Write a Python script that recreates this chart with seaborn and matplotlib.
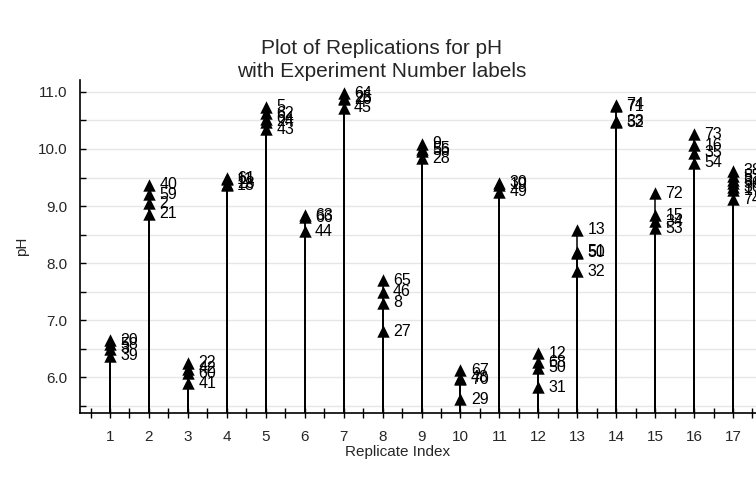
import matplotlib
matplotlib.use("Agg")
import matplotlib.pyplot as plt
import seaborn as sns
import pandas as pd
from matplotlib.ticker import MultipleLocator

# ---- data: pH values per replicate, with experiment-number labels ----
replicates = list(range(1, 18))
rep_labels = [
    ["20", "58", "3", "39"],
    ["40", "59", "2", "21"],
    ["22", "42", "60", "41"],
    ["61", "11", "23", "18"],
    ["5", "62", "64", "24", "43"],
    ["63", "66", "44"],
    ["64", "25", "26", "45"],
    ["65", "46", "8", "27"],
    ["9", "55", "56", "28"],
    ["67", "48", "70", "29"],
    ["30", "19", "49"],
    ["12", "68", "50", "31"],
    ["13", "51", "50", "32"],
    ["74", "71", "33", "52"],
    ["72", "15", "34", "53"],
    ["73", "16", "35", "54"],
    ["38", "57", "37", "56", "36", "17", "74"],
]
rep_values = [
    [6.65, 6.58, 6.50, 6.37],
    [9.37, 9.21, 9.05, 8.86],
    [6.25, 6.15, 6.07, 5.89],
    [9.49, 9.47, 9.39, 9.36],
    [10.74, 10.63, 10.53, 10.48, 10.35],
    [8.84, 8.80, 8.56],
    [10.98, 10.90, 10.87, 10.72],
    [7.70, 7.50, 7.30, 6.80],
    [10.09, 10.00, 9.97, 9.84],
    [6.12, 5.99, 5.96, 5.61],
    [9.41, 9.37, 9.25],
    [6.42, 6.26, 6.16, 5.82],
    [8.58, 8.20, 8.18, 7.86],
    [10.78, 10.75, 10.49, 10.47],
    [9.22, 8.84, 8.73, 8.61],
    [10.26, 10.07, 9.93, 9.76],
    [9.62, 9.52, 9.45, 9.40, 9.33, 9.28, 9.12],
]
y_ticks = [6.0, 7.0, 8.0, 9.0, 10.0, 11.0]

rows = []
for r, labs, vals in zip(replicates, rep_labels, rep_values):
    for lab, v in zip(labs, vals):
        rows.append({"Replicate Index": r, "pH": v, "Experiment": lab})
df = pd.DataFrame(rows)

# ---- styling ----
sns.set_theme(style="white")
plt.rcParams["font.family"] = ["Liberation Sans", "DejaVu Sans"]

fig = plt.figure(figsize=(7.56, 4.79), dpi=100)
ax = fig.add_axes([80 / 756, 66 / 479, 676 / 756, 333 / 479])

ylo, yhi = 5.37, 11.21
ax.set_ylim(ylo, yhi)
ax.set_xlim(0.23, 17.59)

# grid at every half unit
for yv in [6.0 + 0.5 * k for k in range(-1, 11)]:
    ax.axhline(yv, color="#e6e6e6", lw=1.0, zorder=0)

# stems from axis bottom up to each point
ax.vlines(df["Replicate Index"], ylo, df["pH"], colors="black", lw=1.1, zorder=2)

sns.scatterplot(data=df, x="Replicate Index", y="pH", marker="^", s=80,
                color="black", edgecolor="black", linewidth=0, ax=ax, zorder=3,
                legend=False)

for _, row in df.iterrows():
    ax.annotate(row["Experiment"], (row["Replicate Index"], row["pH"]),
                xytext=(7.5, 0), textcoords="offset points",
                va="center", ha="left", fontsize=11.5, color="black", zorder=4,
                annotation_clip=False)

ax.set_xticks(replicates)
ax.set_xticklabels([str(r) for r in replicates])
ax.xaxis.set_minor_locator(MultipleLocator(0.5))
ax.set_yticks(y_ticks)
ax.set_yticklabels([f"{v:.1f}" for v in y_ticks])
ax.yaxis.set_minor_locator(MultipleLocator(0.5))

ax.tick_params(axis="x", which="both", direction="inout", length=7, width=1,
               color="black", labelsize=11, pad=9, bottom=True)
ax.tick_params(axis="y", which="both", direction="in", length=4, width=1,
               color="black", labelsize=11, pad=9, left=True)

for s in ["top", "right"]:
    ax.spines[s].set_visible(False)
for s in ["left", "bottom"]:
    ax.spines[s].set_color("black")
    ax.spines[s].set_linewidth(1.2)

ax.set_xlabel("Replicate Index", fontsize=11)
ax.xaxis.set_label_coords((398 - 80) / 676, -0.095)
ax.set_ylabel("pH", fontsize=11, labelpad=6)

fig.text(0.505, 1 - 60 / 479, "Plot of Replications for pH\nwith Experiment Number labels",
         ha="center", va="center", fontsize=15, multialignment="center",
         linespacing=1.3)

fig.savefig("out.png", dpi=100)
